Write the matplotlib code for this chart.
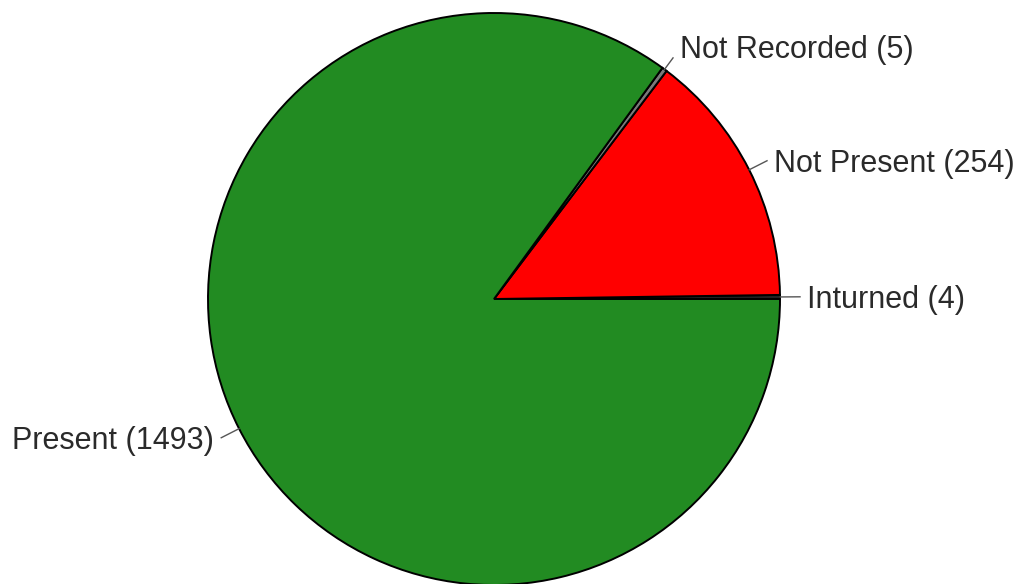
import numpy as np
import matplotlib
matplotlib.use('Agg')
import matplotlib.pyplot as plt

# Slice data (counter-clockwise from 3 o'clock)
labels = ['Inturned', 'Not Present', 'Not Recorded', 'Present']
counts = [4, 254, 5, 1493]
colors = ['#222222', '#ff0000', '#7a7a7a', '#228b22']

plt.rcParams['font.family'] = ['Liberation Sans', 'DejaVu Sans']

fig = plt.figure(figsize=(10.21, 5.84), dpi=100)
ax = fig.add_axes([0, 0, 1, 1])

wedges, _ = ax.pie(counts, colors=colors, startangle=0, counterclock=True,
                   radius=1.0, wedgeprops=dict(edgecolor='black', linewidth=1.4))

# Leader lines and labels at each slice's mid angle
leader_end = {'Not Recorded': 1.05}
text_dy = {'Not Recorded': 0.04}
for w, name, n in zip(wedges, labels, counts):
    ang = np.deg2rad((w.theta1 + w.theta2) / 2)
    r1 = leader_end.get(name, 1.07)
    x0, y0 = np.cos(ang) * 1.0, np.sin(ang) * 1.0
    x1, y1 = np.cos(ang) * r1, np.sin(ang) * r1
    ax.plot([x0, x1], [y0, y1], color='#555555', lw=1.0)
    ha = 'left' if np.cos(ang) >= 0 else 'right'
    dx = 0.025 if ha == 'left' else -0.025
    ax.text(x1 + dx, y1 + text_dy.get(name, 0.0), f'{name} ({n})', ha=ha,
            va='center_baseline', fontsize=22, color='#2a2a2a')

ax.set_aspect('auto')
ax.set_xlim(-494 / 286, (1021 - 494) / 286)
ax.set_ylim(-285 / 286, 299 / 286)
ax.axis('off')

fig.savefig('out.png', dpi=100, facecolor='white')
